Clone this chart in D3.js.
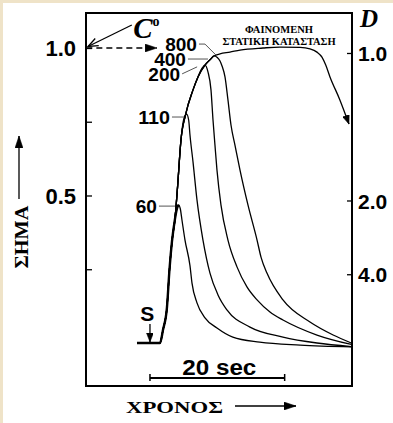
<!DOCTYPE html>
<html>
<head>
<meta charset="utf-8">
<script src="https://cdn.jsdelivr.net/npm/d3@7"></script>
<style>
  html, body { margin: 0; padding: 0; background: #ffffff; }
  svg { display: block; }
</style>
</head>
<body>
<svg id="chart" width="393" height="423"></svg>
<script>
// Elution signal (fraction of C°) against time (s after injection S)
// for pulses of increasing length, labelled by injected volume.
const seriesLabels = ["60", "110", "200", "400", "800"];

const time60   = [-1.93, 1.49, 1.93, 2.52, 2.9, 3.27, 3.71, 4.0, 4.23, 4.5, 4.75, 5.2, 5.94, 6.24, 6.98, 8.17, 9.95, 12.3, 16.3, 22.3, 29.9];
const signal60 = [0, 0, 0.044, 0.12, 0.25, 0.345, 0.42, 0.455, 0.468, 0.455, 0.417, 0.349, 0.262, 0.203, 0.136, 0.085, 0.051, 0.020, 0.003, -0.007, -0.013];

const time110   = [-1.93, 1.49, 1.93, 2.52, 2.9, 3.27, 3.71, 4.1, 4.4, 4.75, 5.1, 5.45, 5.75, 5.94, 6.39, 6.98, 7.87, 8.91, 10.1, 11.43, 14.85, 19.75, 24.8, 29.9];
const signal110 = [0, 0, 0.044, 0.12, 0.25, 0.345, 0.42, 0.53, 0.63, 0.72, 0.765, 0.776, 0.755, 0.705, 0.614, 0.485, 0.349, 0.237, 0.163, 0.112, 0.054, 0.020, 0.0, -0.012];

const time200   = [-1.93, 1.49, 1.93, 2.52, 2.9, 3.27, 3.71, 4.1, 4.6, 5.3, 6.39, 7.13, 7.7, 8.17, 8.61, 9.06, 9.36, 9.65, 9.95, 10.54, 11.58, 12.92, 14.4, 15.9, 17.82, 19.75, 24.8, 29.9];
const signal200 = [0, 0, 0.044, 0.12, 0.25, 0.345, 0.42, 0.53, 0.688, 0.775, 0.858, 0.902, 0.93, 0.942, 0.919, 0.858, 0.756, 0.671, 0.586, 0.468, 0.349, 0.258, 0.19, 0.146, 0.105, 0.078, 0.027, -0.005];

const time400   = [-1.93, 1.49, 1.93, 2.52, 2.9, 3.27, 3.71, 4.1, 4.6, 5.3, 6.39, 7.13, 8.17, 9.0, 9.5, 10.0, 10.4, 10.7, 11.14, 11.58, 12.03, 12.62, 13.37, 14.55, 15.9, 16.5, 17.37, 19.75, 23.76, 27.2, 29.9];
const signal400 = [0, 0, 0.044, 0.12, 0.25, 0.345, 0.42, 0.53, 0.688, 0.775, 0.858, 0.902, 0.942, 0.962, 0.973, 0.968, 0.956, 0.939, 0.902, 0.824, 0.739, 0.671, 0.586, 0.468, 0.349, 0.29, 0.237, 0.146, 0.071, 0.027, 0.0];

const time800   = [-1.93, 1.49, 1.93, 2.52, 2.9, 3.27, 3.71, 4.1, 4.6, 5.3, 6.39, 7.13, 8.17, 9.0, 9.5, 10.4, 11.88, 13.37, 16.78, 19.3, 22.3, 23.76, 24.8, 25.54, 26.1, 26.73, 28.2, 29.55];
const signal800 = [0, 0, 0.044, 0.12, 0.25, 0.345, 0.42, 0.53, 0.688, 0.775, 0.858, 0.902, 0.942, 0.962, 0.973, 0.98, 0.986, 0.993, 1.0, 1.003, 1.002, 0.997, 0.986, 0.969, 0.942, 0.902, 0.824, 0.742];

const leftTicks = [0.25, 0.5, 0.75, 1.0];
const leftTickLabels = { 0.5: "0.5", 1.0: "1.0" };
const rightTicks = [1.0, 2.0, 4.0];
const rightTickLabels = ["1.0", "2.0", "4.0"];
const scaleBarSeconds = [0, 20];
const scaleBarLabel = "20 sec";
const yTitle = "ΣΗΜΑ";
const xTitle = "ΧΡΟΝΟΣ";
const steadyStateLines = ["ΦΑΙΝΟΜΕΝΗ", "ΣΤΑΤΙΚΗ ΚΑΤΑΣΤΑΣΗ"];

const seriesTimes = [time60, time110, time200, time400, time800];
const seriesSignals = [signal60, signal110, signal200, signal400, signal800];
const series = seriesLabels.map((name, i) => ({
  name,
  points: seriesTimes[i].map((t, j) => [t, seriesSignals[i][j]])
}));

const svg = d3.select("#chart");
const W = 393, H = 423;

// Paper background with a thin tinted margin at top and left
svg.append("rect").attr("width", W).attr("height", H).attr("fill", "#efe3c8");
svg.append("rect").attr("x", 3).attr("y", 3).attr("width", W - 3).attr("height", H - 3).attr("fill", "#ffffff");

const frame = { left: 86, right: 352, top: 13, bottom: 386 };
const x = d3.scaleLinear().domain([-9.5, 30]).range([frame.left, frame.right]);
const y = d3.scaleLinear().domain([-0.1458, 1.1186]).range([frame.bottom, frame.top]);
// right-hand dilution axis: D is read against 1/D of the signal
const yD = d3.scalePow().exponent(-1).domain([1, 4]).range([y(1) + 5, y(0.25) + 5]);

const sans = "'Liberation Sans', Arial, Helvetica, sans-serif";
const serif = "'Liberation Serif', 'Times New Roman', serif";

const defs = svg.append("defs");
function marker(id, path, w, h, refX, refY, open) {
  defs.append("marker").attr("id", id)
    .attr("viewBox", `0 0 ${w} ${h}`).attr("refX", refX).attr("refY", refY)
    .attr("markerWidth", w).attr("markerHeight", h)
    .attr("markerUnits", "userSpaceOnUse").attr("orient", "auto")
    .append("path").attr("d", path)
    .attr("fill", open ? "none" : "#000").attr("stroke", "#000")
    .attr("stroke-width", open ? 1.3 : 0.5);
}
marker("headFill", "M0,0 L12,4 L0,8 Z", 12, 8, 12, 4, false);
marker("headSmall", "M0,0 L9,3.5 L0,7 Z", 9, 7, 9, 3.5, false);
marker("headOpen", "M1,1 L11,5 L1,9", 12, 10, 11, 5, true);

// Curves
const line = d3.line().x(d => x(d[0])).y(d => y(d[1])).curve(d3.curveMonotoneX);
const curves = svg.append("g");
curves.selectAll("path").data(series).join("path")
  .attr("d", d => line(d.points))
  .attr("fill", "none").attr("stroke", "#000")
  .attr("stroke-width", 1.3)
  .attr("stroke-linejoin", "round")
  .attr("marker-end", d => d.name === "800" ? "url(#headSmall)" : null);
// shared front of all pulses (baseline and rise up to the 60 peak) drawn heavier
const front = series[0].points.filter(p => p[0] <= 4.23);
curves.append("path").attr("d", line(front))
  .attr("fill", "none").attr("stroke", "#000").attr("stroke-width", 2.4)
  .attr("stroke-linejoin", "round");

// Frame
svg.append("rect")
  .attr("x", frame.left).attr("y", frame.top)
  .attr("width", frame.right - frame.left).attr("height", frame.bottom - frame.top)
  .attr("fill", "none").attr("stroke", "#000").attr("stroke-width", 2);

// Left axis (ticks point inward)
const leftAxis = d3.axisLeft(y).tickValues(leftTicks)
  .tickSizeInner(-6).tickSizeOuter(0).tickPadding(10)
  .tickFormat(d => leftTickLabels[d] || "");
const gl = svg.append("g").attr("transform", `translate(${frame.left},0)`).call(leftAxis);
gl.select(".domain").remove();
gl.selectAll("line").attr("stroke-width", 1.3);
gl.selectAll("text").attr("font-family", sans).attr("font-weight", "bold")
  .attr("font-size", 22).attr("fill", "#000").attr("dy", "0.36em");

// Right axis (D)
const rightAxis = d3.axisRight(yD).tickValues(rightTicks)
  .tickSizeInner(-5).tickSizeOuter(0).tickPadding(6)
  .tickFormat((d, i) => rightTickLabels[i]);
const gr = svg.append("g").attr("transform", `translate(${frame.right},0)`).call(rightAxis);
gr.select(".domain").remove();
gr.selectAll("line").attr("stroke-width", 1.3);
gr.selectAll("text").attr("font-family", sans).attr("font-weight", "bold")
  .attr("font-size", 21).attr("fill", "#000").attr("dy", "0.36em");

svg.append("text").attr("x", frame.right + 8).attr("y", 27)
  .attr("font-family", serif).attr("font-style", "italic").attr("font-weight", "bold")
  .attr("font-size", 25).text("D");

// C° marker: dashed line at the feed level and pointer to the axis
svg.append("line")
  .attr("x1", x(-9.45)).attr("y1", y(1)).attr("x2", x(1.05)).attr("y2", y(1))
  .attr("stroke", "#000").attr("stroke-width", 1.3).attr("stroke-dasharray", "6,4")
  .attr("marker-end", "url(#headFill)");
svg.append("line")
  .attr("x1", x(-2.7)).attr("y1", y(1.078)).attr("x2", x(-9.2)).attr("y2", y(1.005))
  .attr("stroke", "#000").attr("stroke-width", 1.3)
  .attr("marker-end", "url(#headOpen)");
const cLabel = svg.append("text").attr("x", x(-2.5)).attr("y", 38)
  .attr("font-family", serif).attr("font-style", "italic").attr("font-weight", "bold")
  .attr("font-size", 29);
cLabel.append("tspan").text("C");
cLabel.append("tspan").attr("font-size", 14).attr("dy", -12).attr("font-style", "normal").text("o");

// Volume labels with leader lines to the curves
const labelAnchors = [
  { name: "60",  t: 3.71, s: 0.464, path: [[-16, 0], [0, 0]] },
  { name: "110", t: 5.05, s: 0.766, path: [[-12, 0], [0, 0]] },
  { name: "200", t: 7.0,  s: 0.936, path: [[-15, 7], [0, 0]] },
  { name: "400", t: 8.61, s: 0.966, path: [[-20, 1], [0, 1]] },
  { name: "800", t: 9.8,  s: 0.976, path: [[-17, -11], [-11, -11], [0, 0]] }
];
const lg = svg.append("g");
labelAnchors.forEach(a => {
  const px = x(a.t), py = y(a.s);
  const pts = a.path.map(p => [px + p[0], py + p[1]]);
  lg.append("path").attr("d", d3.line()(pts))
    .attr("fill", "none").attr("stroke", "#555").attr("stroke-width", 1);
  lg.append("text").attr("x", pts[0][0] - 2).attr("y", pts[0][1] + 1)
    .attr("text-anchor", "end").attr("dy", "0.36em")
    .attr("font-family", sans).attr("font-weight", "bold").attr("font-size", 17.5)
    .attr("textLength", a.name.length * 10.6).attr("lengthAdjust", "spacingAndGlyphs")
    .text(a.name);
});

// Apparent steady-state note
const ss = svg.append("text").attr("font-family", serif).attr("font-weight", "bold")
  .attr("font-size", 10.5).attr("text-anchor", "middle");
steadyStateLines.forEach((s, i) => {
  ss.append("tspan").attr("x", 279).attr("y", 33 + i * 12).text(s);
});

// Injection mark S
svg.append("text").attr("x", x(-0.4)).attr("y", 321).attr("text-anchor", "middle")
  .attr("font-family", sans).attr("font-weight", "bold").attr("font-size", 21).text("S");
svg.append("line")
  .attr("x1", x(0)).attr("y1", 324).attr("x2", x(0)).attr("y2", y(0) - 1)
  .attr("stroke", "#000").attr("stroke-width", 1.3).attr("marker-end", "url(#headSmall)");

// 20 s time bar
const barY = 378;
const bar = svg.append("g").attr("stroke", "#000").attr("stroke-width", 2);
bar.append("line").attr("x1", x(scaleBarSeconds[0])).attr("x2", x(scaleBarSeconds[1]))
  .attr("y1", barY).attr("y2", barY);
scaleBarSeconds.forEach(t => bar.append("line")
  .attr("x1", x(t)).attr("x2", x(t)).attr("y1", barY - 4).attr("y2", barY + 3).attr("stroke-width", 1.5));
svg.append("text").attr("x", (x(scaleBarSeconds[0]) + x(scaleBarSeconds[1])) / 2 + 2).attr("y", 375)
  .attr("text-anchor", "middle").attr("font-family", sans).attr("font-weight", "bold")
  .attr("font-size", 22).attr("textLength", 74).attr("lengthAdjust", "spacingAndGlyphs")
  .text(scaleBarLabel);

// Axis titles with direction arrows
svg.append("text").attr("x", 126).attr("y", 413)
  .attr("font-family", serif).attr("font-weight", "bold").attr("font-size", 17)
  .attr("textLength", 97).attr("lengthAdjust", "spacingAndGlyphs").text(xTitle);
svg.append("line").attr("x1", 235).attr("y1", 406).attr("x2", 296).attr("y2", 406)
  .attr("stroke", "#000").attr("stroke-width", 1.3).attr("marker-end", "url(#headFill)");

svg.append("text").attr("transform", "translate(28,237) rotate(-90)")
  .attr("text-anchor", "middle")
  .attr("font-family", serif).attr("font-weight", "bold").attr("font-size", 19)
  .attr("textLength", 63).attr("lengthAdjust", "spacingAndGlyphs").text(yTitle);
svg.append("line").attr("x1", 19).attr("y1", 199).attr("x2", 19).attr("y2", 136)
  .attr("stroke", "#000").attr("stroke-width", 1.3).attr("marker-end", "url(#headFill)");
</script>
</body>
</html>
